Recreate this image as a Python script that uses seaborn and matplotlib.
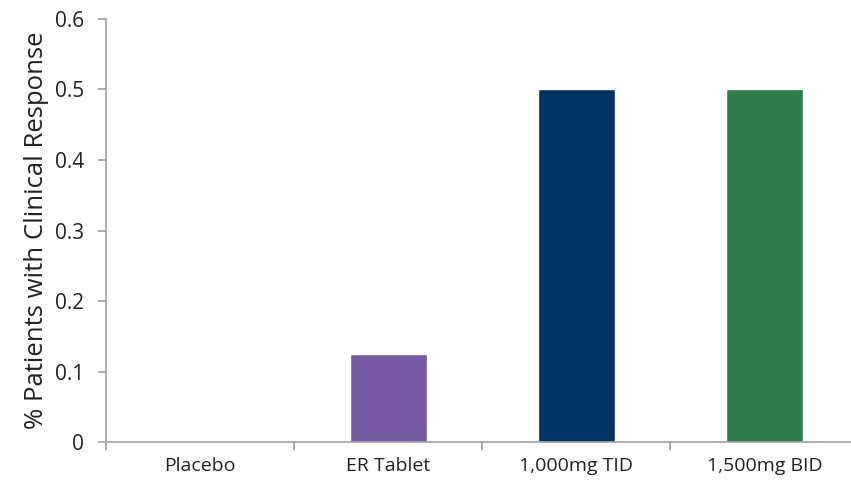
import numpy as np
import pandas as pd
import matplotlib
matplotlib.use('Agg')
import matplotlib.pyplot as plt
import seaborn as sns

categories = ['Placebo', 'ER Tablet', '1,000mg TID', '1,500mg BID']
response = [0.0, 0.125, 0.5, 0.5]
colors = ['#7559A0', '#7559A0', '#003366', '#317A4E']

sns.set_style('white')
plt.rcParams['font.family'] = ['Open Sans', 'DejaVu Sans']

df = pd.DataFrame({'group': categories, 'resp': response})

fig = plt.figure(figsize=(8.51, 4.92), dpi=100)
ax = fig.add_axes([0.1246, 0.1016, 0.8754, 0.8598])

sns.barplot(data=df, x='group', y='resp', hue='group', palette=colors,
            width=0.41, legend=False, ax=ax, saturation=1)

ax.set_xlim(-0.5, 3.46)
ax.set_ylim(0, 0.6)
ax.set_yticks(np.arange(0, 0.61, 0.1))
ax.set_yticklabels(['0', '0.1', '0.2', '0.3', '0.4', '0.5', '0.6'], fontsize=15, color='#222222')
ax.set_xticks(range(4))
ax.set_xticklabels(categories, fontsize=14, color='#222222')
ax.set_xticks(np.arange(-0.5, 3.0, 1), minor=True)
ax.tick_params(axis='x', which='major', bottom=True, length=0, pad=11)
ax.tick_params(axis='x', which='minor', bottom=True, length=6, color='#A0A0A0', width=1.2, direction='out')
ax.tick_params(axis='y', which='major', left=True, length=6, color='#A0A0A0', width=1.2, direction='out', pad=10)
ax.set_xlabel('')
ax.set_ylabel('% Patients with Clinical Response', fontsize=18.5, color='#222222', labelpad=4)

for side in ['top', 'right']:
    ax.spines[side].set_visible(False)
for side in ['left', 'bottom']:
    ax.spines[side].set_color('#A0A0A0')
    ax.spines[side].set_linewidth(1.2)

fig.savefig('out.png', dpi=100)
